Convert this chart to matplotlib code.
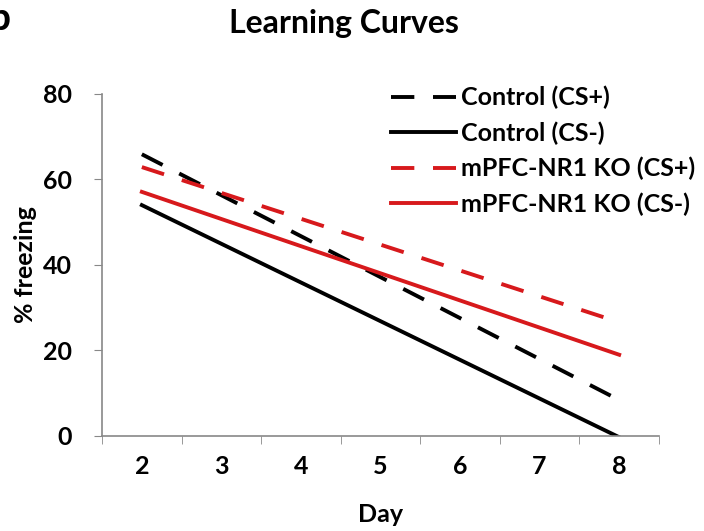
import matplotlib
matplotlib.use("Agg")
import matplotlib.pyplot as plt
import numpy as np

# trend line endpoints
days = [2, 8]
control_csplus = [65.9, 8.4]
control_csminus = [54.0, -0.3]
ko_csplus = [62.9, 26.6]
ko_csminus = [57.1, 19.0]

day_ticks = [2, 3, 4, 5, 6, 7, 8]
y_ticks = [0, 20, 40, 60, 80]

plt.rcParams['font.family'] = ['Lato', 'DejaVu Sans']
plt.rcParams['font.weight'] = 'bold'

red = '#d7191c'
dash = (0, (6.0, 4.8))

fig = plt.figure(figsize=(7.04, 5.31), dpi=100)
ax = fig.add_axes([0.145, 0.179, 0.791, 0.644])

ax.plot(days, control_csplus, color='black', lw=2.8, linestyle=dash, label='Control (CS+)')
ax.plot(days, control_csminus, color='black', lw=2.8, label='Control (CS-)')
ax.plot(days, ko_csplus, color=red, lw=2.8, linestyle=dash, label='mPFC-NR1 KO (CS+)')
ax.plot(days, ko_csminus, color=red, lw=2.8, label='mPFC-NR1 KO (CS-)')

ax.set_xlim(1.5, 8.5)
ax.set_ylim(0, 80)
ax.set_xticks(day_ticks)
ax.set_xticklabels([str(d) for d in day_ticks])
ax.set_xticks(np.arange(1.5, 9.0, 1.0), minor=True)
ax.tick_params(axis='x', which='major', length=0, pad=14, labelsize=18)
ax.tick_params(axis='x', which='minor', length=6, color='#888888', direction='out')
ax.set_yticks(y_ticks)
ax.tick_params(axis='y', length=6, color='#888888', pad=16, labelsize=18)

for s in ['top', 'right']:
    ax.spines[s].set_visible(False)
for s in ['left', 'bottom']:
    ax.spines[s].set_color('#888888')
    ax.spines[s].set_linewidth(1.2)

ax.set_xlabel('Day', fontsize=18, fontweight='bold', labelpad=18)
ax.set_ylabel('% freezing', fontsize=18, fontweight='bold', labelpad=4)

leg = ax.legend(loc='upper left', bbox_to_anchor=(0.518, 1.024), frameon=False,
                fontsize=18, handlelength=2.6, handletextpad=0.2, labelspacing=0.48,
                borderaxespad=0, borderpad=0)
for t in leg.get_texts():
    t.set_fontweight('bold')

fig.text(0.489, 1 - 33 / 531, 'Learning Curves', ha='center', va='baseline',
         fontsize=23, fontweight='bold')
fig.text(-0.016, 1 - 30 / 531, 'b', ha='left', va='baseline', fontsize=28, fontweight='bold')

fig.savefig('out.png', dpi=100)
